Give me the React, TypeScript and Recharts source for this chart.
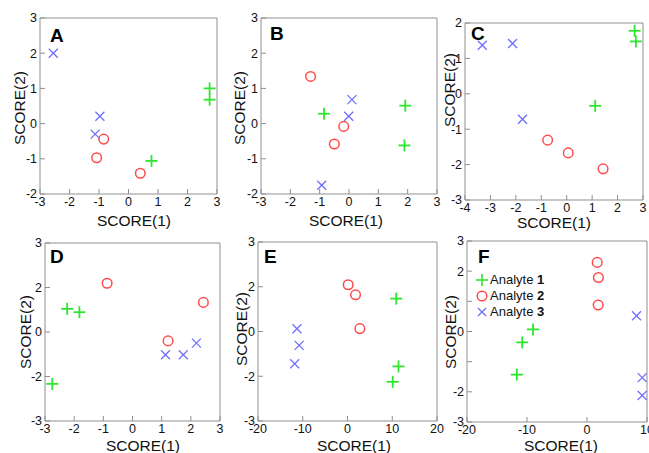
// Six PCA score plots (A–F), three analytes each

import { ScatterChart, Scatter, XAxis, YAxis } from "recharts";

const FONT = "'Liberation Sans', Arial, sans-serif";
const BOX = "#8f8f8f";
const GREEN = "#2ee62e";
const RED = "#ff4a4a";
const BLUE = "#6f6fff";

type Pt = { x: number; y: number };

// panel A
const a1: Pt[] = [{ x: 2.75, y: 1.0 }, { x: 2.75, y: 0.68 }, { x: 0.78, y: -1.06 }];
const a2: Pt[] = [{ x: -0.84, y: -0.44 }, { x: -1.08, y: -0.97 }, { x: 0.4, y: -1.41 }];
const a3: Pt[] = [{ x: -2.55, y: 2.0 }, { x: -0.97, y: 0.21 }, { x: -1.13, y: -0.3 }];
// panel B
const b1: Pt[] = [{ x: -0.85, y: 0.28 }, { x: 1.92, y: 0.51 }, { x: 1.89, y: -0.62 }];
const b2: Pt[] = [{ x: -1.31, y: 1.34 }, { x: -0.18, y: -0.08 }, { x: -0.5, y: -0.58 }];
const b3: Pt[] = [{ x: 0.1, y: 0.68 }, { x: -0.01, y: 0.21 }, { x: -0.93, y: -1.75 }];
// panel C
const c1: Pt[] = [{ x: 2.67, y: 1.78 }, { x: 2.72, y: 1.48 }, { x: 1.12, y: -0.34 }];
const c2: Pt[] = [{ x: -0.75, y: -1.31 }, { x: 0.06, y: -1.67 }, { x: 1.43, y: -2.12 }];
const c3: Pt[] = [{ x: -3.32, y: 1.37 }, { x: -2.13, y: 1.42 }, { x: -1.74, y: -0.72 }];
// panel D
const d1: Pt[] = [{ x: -2.24, y: 1.04 }, { x: -1.82, y: 0.89 }, { x: -2.75, y: -2.33 }];
const d2: Pt[] = [{ x: -0.87, y: 2.19 }, { x: 2.43, y: 1.33 }, { x: 1.22, y: -0.4 }];
const d3: Pt[] = [{ x: 1.13, y: -1.02 }, { x: 1.74, y: -1.02 }, { x: 2.19, y: -0.5 }];
// panel E
const e1: Pt[] = [{ x: 10.9, y: 1.47 }, { x: 11.4, y: -1.56 }, { x: 10.1, y: -2.25 }];
const e2: Pt[] = [{ x: 0.15, y: 2.09 }, { x: 1.8, y: 1.64 }, { x: 2.76, y: 0.13 }];
const e3: Pt[] = [{ x: -11.3, y: 0.12 }, { x: -10.8, y: -0.62 }, { x: -11.8, y: -1.44 }];
// panel F
const f1: Pt[] = [{ x: -9.0, y: 0.07 }, { x: -10.8, y: -0.36 }, { x: -11.7, y: -1.43 }];
const f2: Pt[] = [{ x: 1.7, y: 2.29 }, { x: 1.9, y: 1.79 }, { x: 1.86, y: 0.88 }];
const f3: Pt[] = [{ x: 8.25, y: 0.52 }, { x: 9.2, y: -1.53 }, { x: 9.2, y: -2.12 }];

const ticks3 = [-3, -2, -1, 0, 1, 2, 3];
const ticksAB_y = [-2, -1, 0, 1, 2, 3];
const ticksC_x = [-4, -3, -2, -1, 0, 1, 2, 3];
const ticksC_y = [-3, -2, -1, 0, 1, 2];
const ticksDE_y = [-4, -2, 0, 2, 4];
const labelsDE_y = ["-3", "-2", "0", "2", "3"];
const ticksE_x = [-20, -10, 0, 10, 20];
const ticksF_x = [-20, -10, 0, 10];
const labelsF_y = ["-3", "-2", "", "0", "", "2", "3"];

const analyteNames = ["Analyte 1", "Analyte 2", "Analyte 3"];

const plus = (color: string) => (p: any) => (
  <g stroke={color} strokeWidth={1.8}>
    <line x1={p.cx - 6} y1={p.cy} x2={p.cx + 6} y2={p.cy} />
    <line x1={p.cx} y1={p.cy - 6} x2={p.cx} y2={p.cy + 6} />
  </g>
);
const circle = (color: string) => (p: any) => (
  <circle cx={p.cx} cy={p.cy} r={4.8} fill="none" stroke={color} strokeWidth={1.5} />
);
const cross = (color: string) => (p: any) => (
  <g stroke={color} strokeWidth={1.3}>
    <line x1={p.cx - 4.5} y1={p.cy - 4.5} x2={p.cx + 4.5} y2={p.cy + 4.5} />
    <line x1={p.cx - 4.5} y1={p.cy + 4.5} x2={p.cx + 4.5} y2={p.cy - 4.5} />
  </g>
);

const legendIcon = (i: number) => {
  if (i === 0)
    return (
      <svg width={14} height={14}>
        <g stroke={GREEN} strokeWidth={1.6}>
          <line x1={1} y1={7} x2={13} y2={7} />
          <line x1={7} y1={1} x2={7} y2={13} />
        </g>
      </svg>
    );
  if (i === 1)
    return (
      <svg width={14} height={14}>
        <circle cx={7} cy={7} r={4.8} fill="none" stroke={RED} strokeWidth={1.4} />
      </svg>
    );
  return (
    <svg width={14} height={14}>
      <g stroke={BLUE} strokeWidth={1.2}>
        <line x1={3} y1={3} x2={11} y2={11} />
        <line x1={3} y1={11} x2={11} y2={3} />
      </g>
    </svg>
  );
};

function PanelLegend() {
  return (
    <div
      style={{
        position: "absolute",
        left: 475,
        top: 272,
        fontFamily: FONT,
        fontSize: 13,
        color: "#111",
        lineHeight: "16px",
      }}
    >
      {analyteNames.map((n, i) => {
        const [word, num] = n.split(" ");
        return (
          <div key={n} style={{ display: "flex", alignItems: "center", height: 16 }}>
            {legendIcon(i)}
            <span style={{ marginLeft: 1 }}>
              {word} <b>{num}</b>
            </span>
          </div>
        );
      })}
    </div>
  );
}

interface PanelProps {
  left: number;
  top: number;
  w: number;
  h: number;
  xDomain: [number, number];
  yDomain: [number, number];
  xTicks: number[];
  yTicks: number[];
  yLabels?: string[];
  s1: Pt[];
  s2: Pt[];
  s3: Pt[];
}

function Panel(p: PanelProps) {
  const tickStyle = { fill: "#111", fontSize: 12.5, fontFamily: FONT };
  const fmt = (v: number) => {
    if (!p.yLabels) return String(v);
    const i = p.yTicks.indexOf(v);
    return i >= 0 ? p.yLabels[i] : "";
  };
  return (
    <div style={{ position: "absolute", left: p.left - 40, top: p.top - 10 }}>
      <ScatterChart
        width={p.w + 50}
        height={p.h + 50}
        margin={{ top: 9, right: 9, bottom: 0, left: 0 }}
      >
        <XAxis
          xAxisId="b"
          type="number"
          dataKey="x"
          domain={p.xDomain}
          ticks={p.xTicks}
          interval={0}
          allowDataOverflow
          height={40}
          tickSize={-5}
          tickMargin={8}
          stroke={BOX}
          tick={tickStyle}
        />
        <XAxis
          xAxisId="t"
          orientation="top"
          type="number"
          domain={p.xDomain}
          ticks={p.xTicks}
          interval={0}
          allowDataOverflow
          height={1}
          tickSize={-5}
          tick={false}
          stroke={BOX}
        />
        <YAxis
          yAxisId="l"
          type="number"
          dataKey="y"
          domain={p.yDomain}
          ticks={p.yTicks}
          interval={0}
          allowDataOverflow
          width={40}
          tickSize={-5}
          tickMargin={8}
          stroke={BOX}
          tick={tickStyle}
          tickFormatter={fmt}
        />
        <YAxis
          yAxisId="r"
          orientation="right"
          type="number"
          domain={p.yDomain}
          ticks={p.yTicks}
          interval={0}
          allowDataOverflow
          width={1}
          tickSize={-5}
          tick={false}
          stroke={BOX}
        />
        <Scatter name={analyteNames[0]} data={p.s1} xAxisId="b" yAxisId="l" shape={plus(GREEN)} isAnimationActive={false} />
        <Scatter name={analyteNames[1]} data={p.s2} xAxisId="b" yAxisId="l" shape={circle(RED)} isAnimationActive={false} />
        <Scatter name={analyteNames[2]} data={p.s3} xAxisId="b" yAxisId="l" shape={cross(BLUE)} isAnimationActive={false} />
      </ScatterChart>
    </div>
  );
}

const letters = [
  { t: "A", x: 50, y: 42 },
  { t: "B", x: 270, y: 40 },
  { t: "C", x: 471, y: 40 },
  { t: "D", x: 50, y: 263 },
  { t: "E", x: 264, y: 263 },
  { t: "F", x: 478, y: 263 },
];
const xLabels = [
  { x: 134, y: 220 },
  { x: 346, y: 220 },
  { x: 554, y: 222 },
  { x: 143, y: 445 },
  { x: 354, y: 445 },
  { x: 561, y: 445 },
];
const yLabels = [
  { x: 19, y: 108 },
  { x: 239, y: 108 },
  { x: 449, y: 90 },
  { x: 25, y: 332 },
  { x: 241, y: 329 },
  { x: 450, y: 332 },
];

export default function App() {
  return (
    <div style={{ position: "absolute", left: 0, top: 0, width: 649, height: 453, background: "#fff" }}>
      <Panel left={40} top={18} w={177} h={176} xDomain={[-3, 3]} yDomain={[-2, 3]} xTicks={ticks3} yTicks={ticksAB_y} s1={a1} s2={a2} s3={a3} />
      <Panel left={261} top={18} w={176} h={176} xDomain={[-3, 3]} yDomain={[-2, 3]} xTicks={ticks3} yTicks={ticksAB_y} s1={b1} s2={b2} s3={b3} />
      <Panel left={465} top={23} w={178} h={177} xDomain={[-4, 3]} yDomain={[-3, 2]} xTicks={ticksC_x} yTicks={ticksC_y} s1={c1} s2={c2} s3={c3} />
      <Panel left={45} top={243} w={175} h={178} xDomain={[-3, 3]} yDomain={[-4, 4]} xTicks={ticks3} yTicks={ticksDE_y} yLabels={labelsDE_y} s1={d1} s2={d2} s3={d3} />
      <Panel left={258} top={242} w={179} h={179} xDomain={[-20, 20]} yDomain={[-4, 4]} xTicks={ticksE_x} yTicks={ticksDE_y} yLabels={labelsDE_y} s1={e1} s2={e2} s3={e3} />
      <Panel left={467} top={241} w={180} h={181} xDomain={[-20, 10]} yDomain={[-3, 3]} xTicks={ticksF_x} yTicks={ticks3} yLabels={labelsF_y} s1={f1} s2={f2} s3={f3} />
      <PanelLegend />
      <svg width={649} height={453} style={{ position: "absolute", left: 0, top: 0, pointerEvents: "none" }}>
        {letters.map((l) => (
          <text key={l.t} x={l.x} y={l.y} fontFamily={FONT} fontWeight="bold" fontSize={19} fill="#000">
            {l.t}
          </text>
        ))}
        {xLabels.map((l, i) => (
          <text key={"x" + i} x={l.x} y={l.y} textAnchor="middle" dominantBaseline="central" fontFamily={FONT} fontSize={15.5} fill="#111">
            SCORE(1)
          </text>
        ))}
        {yLabels.map((l, i) => (
          <text
            key={"y" + i}
            x={l.x}
            y={l.y}
            textAnchor="middle"
            dominantBaseline="central"
            fontFamily={FONT}
            fontSize={15.5}
            fill="#111"
            transform={`rotate(-90 ${l.x} ${l.y})`}
          >
            SCORE(2)
          </text>
        ))}
      </svg>
    </div>
  );
}
